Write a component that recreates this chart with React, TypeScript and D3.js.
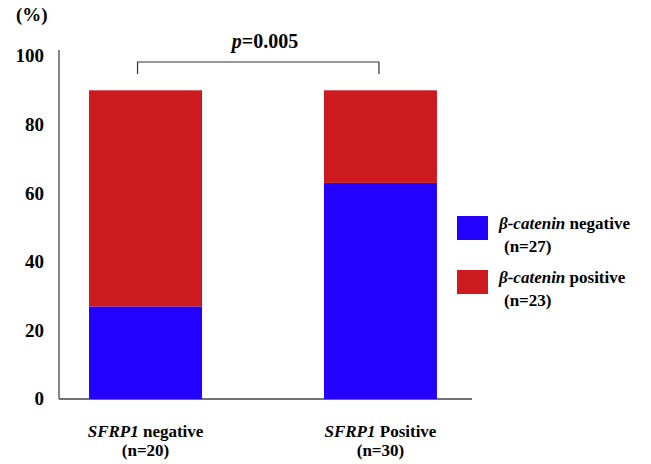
import React from "react";
import * as d3 from "d3";

const groups = ["SFRP1 negative", "SFRP1 Positive"];
const groupItalic = ["SFRP1", "SFRP1"];
const groupRest = [" negative", " Positive"];
const groupN = ["(n=20)", "(n=30)"];
const negativeValues = [27, 63];
const positiveValues = [63, 27];
const yTicks = [0, 20, 40, 60, 80, 100];
const legendLabels = ["negative", "positive"];
const legendN = ["(n=27)", "(n=23)"];
const pLabel = "=0.005";

const BLUE = "#2400ff";
const RED = "#cc1a1e";
const font = '"Liberation Serif", Tinos, "DejaVu Serif", "Times New Roman", serif';

const W = 651;
const H = 464;

export default function App() {
  const y = d3.scaleLinear().domain([0, 100]).range([399, 56]);
  const x = d3
    .scaleBand()
    .domain(groups)
    .range([58.5, 467.5])
    .paddingInner(0.519)
    .paddingOuter(0.13);

  const stacked = groups.map((g, i) => ({
    g,
    neg: negativeValues[i],
    pos: positiveValues[i],
  }));

  const x0 = x(groups[0])! + x.bandwidth() / 2;
  const x1 = x(groups[1])! + x.bandwidth() / 2;

  return (
    <svg
      width={W}
      height={H}
      style={{
        position: "absolute",
        left: 0,
        top: 0,
        background: "#fff",
        fontFamily: font,
        fontWeight: "bold",
      }}
    >
      <text x={16} y={21} fontSize={19}>(%)</text>

      {/* axes */}
      <line x1={59} x2={59} y1={50} y2={399} stroke="#444" strokeWidth={1.3} />
      <line x1={59} x2={472} y1={399} y2={399} stroke="#444" strokeWidth={1.3} />
      {yTicks.map((t) => (
        <text key={t} x={44} y={y(t) + 2} fontSize={19} textAnchor="end" dominantBaseline="middle">
          {t}
        </text>
      ))}

      {/* bars */}
      {stacked.map((d) => (
        <g key={d.g}>
          <rect x={x(d.g)} width={x.bandwidth()} y={y(d.neg)} height={y(0) - y(d.neg)} fill={BLUE} />
          <rect
            x={x(d.g)}
            width={x.bandwidth()}
            y={y(d.neg + d.pos)}
            height={y(d.neg) - y(d.neg + d.pos)}
            fill={RED}
          />
        </g>
      ))}

      {/* x labels */}
      {groups.map((g, i) => {
        const cx = x(g)! + x.bandwidth() / 2;
        return (
          <g key={g} fontSize={17}>
            <text x={cx} y={437} textAnchor="middle">
              <tspan fontStyle="italic">{groupItalic[i]}</tspan>
              {groupRest[i]}
            </text>
            <text x={cx} y={456} textAnchor="middle">{groupN[i]}</text>
          </g>
        );
      })}

      {/* significance bracket */}
      <path
        d={`M${x0 - 8},74V62H${x1 - 1.5}V74`}
        fill="none"
        stroke="#333"
        strokeWidth={1.2}
      />
      <text x={(x0 + x1) / 2 + 2} y={48} fontSize={20} textAnchor="middle">
        <tspan fontStyle="italic">p</tspan>
        {pLabel}
      </text>

      {/* legend */}
      {legendLabels.map((l, i) => (
        <g key={l} transform={`translate(457,${216 + i * 54})`} fontSize={17}>
          <rect width={31} height={24} fill={i === 0 ? BLUE : RED} />
          <text x={42} y={13}>
            <tspan fontStyle="italic">β-catenin</tspan> {l}
          </text>
          <text x={47} y={36}>{legendN[i]}</text>
        </g>
      ))}
    </svg>
  );
}
